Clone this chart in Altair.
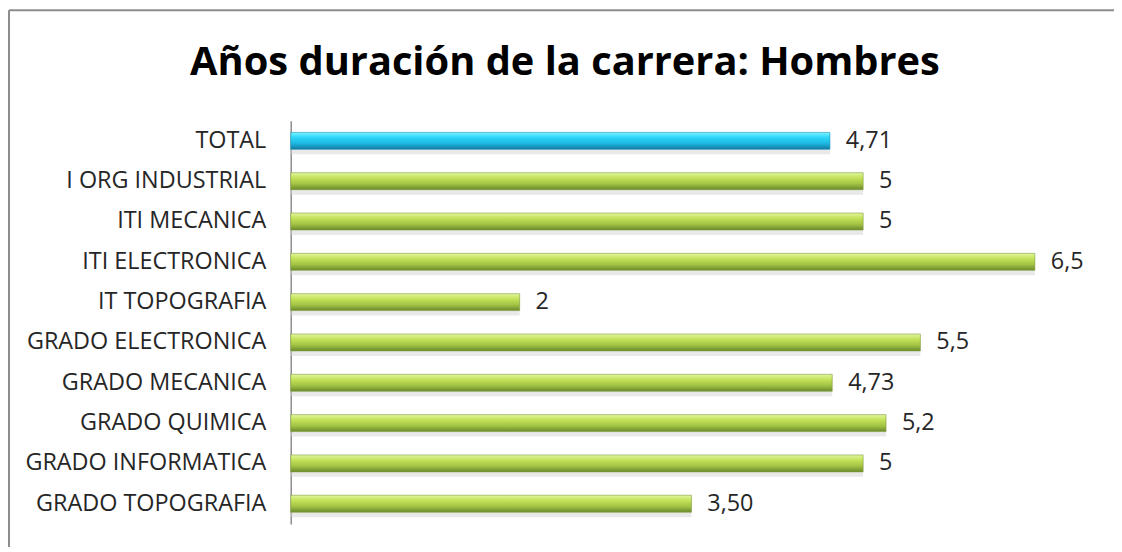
import altair as alt
import pandas as pd

categories = ["TOTAL", "I ORG INDUSTRIAL", "ITI MECANICA", "ITI ELECTRONICA", "IT TOPOGRAFIA",
              "GRADO ELECTRONICA", "GRADO MECANICA", "GRADO QUIMICA", "GRADO INFORMATICA",
              "GRADO TOPOGRAFIA"]
values = [4.71, 5, 5, 6.5, 2, 5.5, 4.73, 5.2, 5, 3.50]
labels = ["4,71", "5", "5", "6,5", "2", "5,5", "4,73", "5,2", "5", "3,50"]
group = ["total"] + ["carrera"] * 9

df = pd.DataFrame({"cat": categories, "val": values, "lab": labels, "grp": group})

FONT = "Open Sans"
W, H = 805, 405

y = alt.Y("cat:N", sort=categories, title=None,
          scale=alt.Scale(paddingInner=0.58, paddingOuter=0.29),
          axis=alt.Axis(labelFont=FONT, labelFontSize=23.5, labelColor="#262626",
                        labelPadding=25, labelLimit=400, ticks=False, domainColor="#8c8c8c",
                        domainWidth=1.5, grid=False))
x = alt.X("val:Q", title=None, scale=alt.Scale(domain=[0, 7]), axis=None)

green = alt.Gradient(gradient="linear", x1=0, x2=0, y1=0, y2=1, stops=[
    alt.GradientStop(color="#e2f7a0", offset=0),
    alt.GradientStop(color="#c4e25a", offset=0.3),
    alt.GradientStop(color="#a4c445", offset=0.65),
    alt.GradientStop(color="#6a8a2c", offset=1)])
blue = alt.Gradient(gradient="linear", x1=0, x2=0, y1=0, y2=1, stops=[
    alt.GradientStop(color="#7af4ff", offset=0),
    alt.GradientStop(color="#2fd6f8", offset=0.3),
    alt.GradientStop(color="#1cb8e2", offset=0.65),
    alt.GradientStop(color="#14799f", offset=1)])

base = alt.Chart(df)

shadow = base.mark_bar(color="#d4d4d4", opacity=0.5, yOffset=5).encode(x=x, y=y)
bars_g = base.transform_filter(alt.datum.grp == "carrera").mark_bar(
    color=green, stroke="#7f9c3a", strokeWidth=0.6).encode(x=x, y=y)
bars_b = base.transform_filter(alt.datum.grp == "total").mark_bar(
    color=blue, stroke="#1b8fb9", strokeWidth=0.6).encode(x=x, y=y)
text = base.mark_text(align="left", baseline="middle", dx=16, font=FONT,
                      fontSize=23.5, color="#262626").encode(x=x, y=y, text="lab:N")

one = pd.DataFrame({"f": [0]})
top_line = alt.Chart(one).mark_rule(stroke="#8c8c8c", strokeWidth=2, clip=False).encode(
    x=alt.value(-283), x2=alt.value(840), y=alt.value(-111))
left_line = alt.Chart(one).mark_rule(stroke="#8c8c8c", strokeWidth=2, clip=False).encode(
    x=alt.value(-283), y=alt.value(-111), y2=alt.value(440))

chart = alt.layer(top_line, left_line, shadow, bars_g, bars_b, text).properties(
    width=W, height=H,
    background="white",
    title=alt.Title("Años duración de la carrera: Hombres", font=FONT, fontSize=40,
                    fontWeight="bold", color="#000000", anchor="middle", dx=-127,
                    offset=-74, frame="group"),
    autosize=alt.AutoSizeParams(type="none"),
    padding={"left": 284, "top": 112, "right": 22, "bottom": 22},
).configure_view(strokeWidth=0, stroke="transparent")

chart.save("out.html", embed_options={"renderer": "svg", "actions": False})
